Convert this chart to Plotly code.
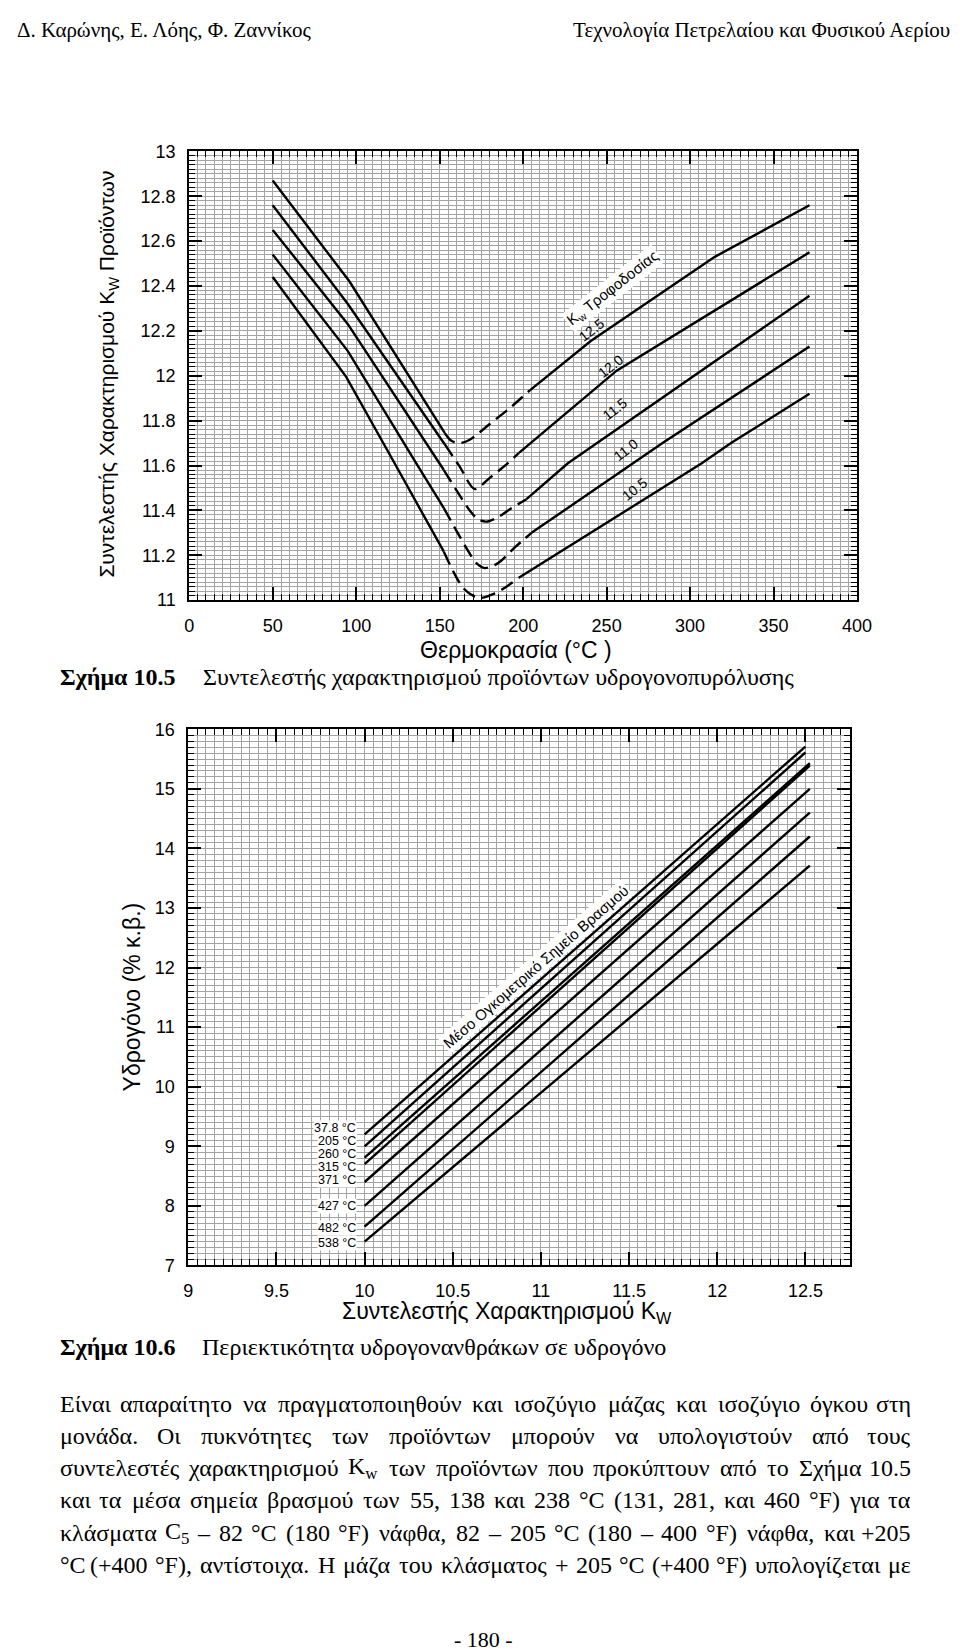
import re
import plotly.graph_objects as go

# ===================== DATA =====================
# Figure 10.5 : product Kw vs temperature, one curve per feed Kw
feed_kw = ["12.5", "12.0", "11.5", "11.0", "10.5"]

kw125_down_t = [50, 96, 153]
kw125_down_k = [12.87, 12.42, 11.745]
kw125_dash_t = [153, 157, 162, 168, 180, 192.6, 204]
kw125_dash_k = [11.745, 11.71, 11.70, 11.715, 11.785, 11.86, 11.935]
kw125_up_t = [204, 240.5, 314.8, 371.5]
kw125_up_k = [11.935, 12.155, 12.53, 12.76]

kw120_down_t = [50, 95, 153]
kw120_down_k = [12.76, 12.32, 11.695]
kw120_dash_t = [153, 162, 171, 180, 190, 197.5]
kw120_dash_k = [11.695, 11.595, 11.495, 11.545, 11.605, 11.656]
kw120_up_t = [197.5, 256, 371.5]
kw120_up_k = [11.656, 12.023, 12.55]

kw115_down_t = [50, 95, 152.5]
kw115_down_k = [12.65, 12.23, 11.58]
kw115_dash_t = [152.5, 160, 168, 173, 178, 185, 193, 202]
kw115_dash_k = [11.58, 11.49, 11.40, 11.36, 11.35, 11.37, 11.41, 11.45]
kw115_up_t = [202, 226.8, 244.3, 371.5]
kw115_up_k = [11.45, 11.61, 11.70, 12.357]

kw110_down_t = [50, 95, 136, 152.5]
kw110_down_k = [12.54, 12.11, 11.61, 11.41]
kw110_dash_t = [152.5, 160, 167, 172, 177, 185, 195, 205]
kw110_dash_k = [11.41, 11.31, 11.22, 11.165, 11.143, 11.165, 11.235, 11.30]
kw110_up_t = [205, 283.5, 371.5]
kw110_up_k = [11.30, 11.70, 12.13]

kw105_down_t = [50, 94, 123, 152.5]
kw105_down_k = [12.44, 11.995, 11.61, 11.216]
kw105_dash_t = [152.5, 158, 164, 170, 175, 183, 190, 197.4]
kw105_dash_k = [11.216, 11.13, 11.055, 11.02, 11.01, 11.03, 11.06, 11.10]
kw105_up_t = [197.4, 307, 324.5, 371.5]
kw105_up_k = [11.10, 11.61, 11.70, 11.92]

# Figure 10.6 : hydrogen content vs Kw, one line per mean boiling point
bp_labels = ["37.8 °C", "205 °C", "260 °C", "315 °C", "371 °C", "427 °C", "482 °C", "538 °C"]
kw_start = [10.0, 10.0, 10.0, 10.0, 10.0, 10.0, 10.0, 10.0]
h2_start = [9.20, 9.00, 8.81, 8.70, 8.40, 8.00, 7.65, 7.40]
kw_end = [12.50, 12.50, 12.525, 12.525, 12.525, 12.525, 12.525, 12.525]
h2_end = [15.71, 15.61, 15.43, 15.39, 15.00, 14.60, 14.20, 13.71]

# ===================== PAGE TEXT =====================
header_left = "Δ. Καρώνης, Ε. Λόης, Φ. Ζαννίκος"
header_right = "Τεχνολογία Πετρελαίου και Φυσικού Αερίου"
cap1_num = "Σχήμα 10.5"
cap1_txt = "Συντελεστής χαρακτηρισμού προϊόντων υδρογονοπυρόλυσης"
cap2_num = "Σχήμα 10.6"
cap2_txt = "Περιεκτικότητα υδρογονανθράκων σε υδρογόνο"
body_lines = [
    "Είναι απαραίτητο να πραγματοποιηθούν και ισοζύγιο μάζας και ισοζύγιο όγκου στη",
    "μονάδα. Οι πυκνότητες των προϊόντων μπορούν να υπολογιστούν από τους",
    "συντελεστές χαρακτηρισμού K<sub>w</sub> των προϊόντων που προκύπτουν από το Σχήμα 10.5",
    "και τα μέσα σημεία βρασμού των 55, 138 και 238 °C (131, 281, και 460 °F) για τα",
    "κλάσματα C<sub>5</sub> – 82 °C (180 °F) νάφθα, 82 – 205 °C (180 – 400 °F) νάφθα, και +205",
    "°C (+400 °F), αντίστοιχα. Η μάζα του κλάσματος + 205 °C (+400 °F) υπολογίζεται με",
]
page_number = "- 180 -"

# ===================== LAYOUT =====================
W, H = 960, 1652


def PX(x):
    return x / W


def PY(y):
    return 1 - y / H


SANS = "Liberation Sans, Arial, sans-serif"
SERIF = "Liberation Serif, Times New Roman, serif"
GRID = "#a4a4a4"
LW = 2.4

fig = go.Figure()

curves = [
    (kw125_down_t, kw125_down_k, kw125_dash_t, kw125_dash_k, kw125_up_t, kw125_up_k),
    (kw120_down_t, kw120_down_k, kw120_dash_t, kw120_dash_k, kw120_up_t, kw120_up_k),
    (kw115_down_t, kw115_down_k, kw115_dash_t, kw115_dash_k, kw115_up_t, kw115_up_k),
    (kw110_down_t, kw110_down_k, kw110_dash_t, kw110_dash_k, kw110_up_t, kw110_up_k),
    (kw105_down_t, kw105_down_k, kw105_dash_t, kw105_dash_k, kw105_up_t, kw105_up_k),
]
for dt, dk, st, sk, ut, uk in curves:
    fig.add_trace(go.Scatter(x=dt, y=dk, mode="lines", xaxis="x", yaxis="y",
                             line=dict(color="black", width=LW), hoverinfo="skip"))
    fig.add_trace(go.Scatter(x=st, y=sk, mode="lines", xaxis="x", yaxis="y",
                             line=dict(color="black", width=LW, dash="14px,7px",
                                       shape="spline", smoothing=0.8), hoverinfo="skip"))
    fig.add_trace(go.Scatter(x=ut, y=uk, mode="lines", xaxis="x", yaxis="y",
                             line=dict(color="black", width=LW), hoverinfo="skip"))

for i in range(len(bp_labels)):
    fig.add_trace(go.Scatter(x=[kw_start[i], kw_end[i]], y=[h2_start[i], h2_end[i]],
                             mode="lines", xaxis="x2", yaxis="y2",
                             line=dict(color="black", width=LW), hoverinfo="skip"))


def lin_axis(domain, rng, dtick, minor_dtick, anchor, tick0):
    return dict(domain=domain, range=rng, anchor=anchor, tickmode="linear", tick0=tick0,
                dtick=dtick, ticks="inside", ticklen=13, tickwidth=1.6, tickcolor="black",
                showline=True, linecolor="black", linewidth=2, mirror="ticks",
                showgrid=True, gridcolor=GRID, gridwidth=1, zeroline=False,
                tickfont=dict(family=SANS, size=18, color="black"), ticklabelstandoff=8,
                minor=dict(tick0=tick0, dtick=minor_dtick, ticks="inside", ticklen=6,
                           tickwidth=1.3, tickcolor="black", showgrid=True,
                           gridcolor=GRID, gridwidth=1),
                fixedrange=True)


annotations = []


def ann(text, x, y, size, family=SANS, xanchor="center", yanchor="middle", angle=0,
        xref="paper", yref="paper", bg=None, pad=1):
    d = dict(text=text, x=x, y=y, xref=xref, yref=yref, showarrow=False,
             xanchor=xanchor, yanchor=yanchor, textangle=angle,
             font=dict(family=family, size=size, color="black"))
    if bg:
        d["bgcolor"] = bg
        d["borderpad"] = pad
    annotations.append(d)


# axis titles
ann("Συντελεστής Χαρακτηρισμού K<sub>W</sub> Προϊόντων", PX(97), PY(360), 21, angle=-90)
ann("Θερμοκρασία (°C )", PX(514), PY(640), 23)
ann("Υδρογόνο (% κ.β.)", PX(122), PY(991), 23, angle=-90)
ann("Συντελεστής Χαρακτηρισμού K<sub>W</sub>", PX(504), PY(1310), 23)

# figure 10.5 curve labels
ann("K<sub>w</sub> Τροφοδοσίας", 253.5, 12.391, 15, angle=-38, xref="x", yref="y", bg="white")
label_pos_105 = [(240.9, 12.203), (252.6, 12.043), (255.1, 11.85), (261.4, 11.668), (266.9, 11.495)]
for lab, (lx, ly) in zip(feed_kw, label_pos_105):
    ann(lab, lx, ly, 14, angle=-38, xref="x", yref="y")

# figure 10.6 labels
label_y_106 = [9.31, 9.09, 8.87, 8.66, 8.43, 8.0, 7.63, 7.38]
for lab, ly in zip(bp_labels, label_y_106):
    ann(lab, 9.955, ly, 12.5, xanchor="right", xref="x2", yref="y2", bg="white", pad=0)
ann("Μέσο Ογκομετρικό Σημείο Βρασμού", 10.972, 12.02, 15, angle=-41,
    xref="x2", yref="y2", bg="white")

# header, captions, page number
ann(header_left, PX(2), PY(12), 21, family=SERIF, xanchor="left")
ann(header_right, PX(959), PY(12), 21, family=SERIF, xanchor="right")
ann("<b>" + cap1_num + "</b>", PX(46), PY(667), 24, family=SERIF, xanchor="left")
ann(cap1_txt, PX(192), PY(667), 24, family=SERIF, xanchor="left")
ann("<b>" + cap2_num + "</b>", PX(46), PY(1345), 24, family=SERIF, xanchor="left")
ann(cap2_txt, PX(191), PY(1345), 24, family=SERIF, xanchor="left")
ann(page_number, PX(480), PY(1641), 22, family=SERIF)

# justified body text (word by word)
CW = {' ': 0.25, '.': 0.25, ',': 0.25, '(': 0.333, ')': 0.333, '–': 0.5, '-': 0.333,
      '+': 0.564, '°': 0.4,
      'α': 0.55, 'ά': 0.55, 'β': 0.5, 'γ': 0.46, 'δ': 0.5, 'ε': 0.44, 'έ': 0.44,
      'ζ': 0.44, 'η': 0.5, 'ή': 0.5, 'θ': 0.5, 'ι': 0.28, 'ί': 0.28, 'ϊ': 0.28,
      'κ': 0.5, 'λ': 0.5, 'μ': 0.56, 'ν': 0.46, 'ξ': 0.45, 'ο': 0.5, 'ό': 0.5,
      'π': 0.53, 'ρ': 0.5, 'σ': 0.54, 'ς': 0.44, 'τ': 0.43, 'υ': 0.49, 'ύ': 0.49,
      'φ': 0.65, 'χ': 0.46, 'ψ': 0.68, 'ω': 0.7, 'ώ': 0.7,
      'Ε': 0.61, 'Η': 0.72, 'Ο': 0.72, 'Σ': 0.58, 'K': 0.72, 'C': 0.67, 'F': 0.56,
      'w': 0.72}


def est_width(word, size):
    total = 0.0
    for part in re.split(r"(<sub>.*?</sub>)", word):
        if part.startswith("<sub>"):
            total += 0.7 * sum(CW.get(c, 0.5) for c in part[5:-6])
        else:
            total += sum(CW.get(c, 0.5) for c in part)
    return total * size


BODY_SIZE = 24
BODY_L, BODY_R = 46, 919
body_y = [1402.6, 1435.3, 1468.0, 1500.6, 1533.3, 1566.0]
for line, yy in zip(body_lines, body_y):
    words = line.split(" ")
    widths = [est_width(w, BODY_SIZE) for w in words]
    gap = (BODY_R - BODY_L - sum(widths)) / (len(words) - 1)
    cur = BODY_L
    for k, (w, wd) in enumerate(zip(words, widths)):
        if k == 0:
            ann(w, PX(BODY_L), PY(yy), BODY_SIZE, family=SERIF, xanchor="left")
        elif k == len(words) - 1:
            ann(w, PX(BODY_R), PY(yy), BODY_SIZE, family=SERIF, xanchor="right")
        else:
            ann(w, PX(cur + wd / 2), PY(yy), BODY_SIZE, family=SERIF, xanchor="center")
        cur += wd + gap

fig.update_layout(
    width=W, height=H, margin=dict(l=0, r=0, t=0, b=0),
    paper_bgcolor="white", plot_bgcolor="white", showlegend=False,
    xaxis=lin_axis([180 / W, 862 / W], [0, 400], 50, 5, "y", 0),
    yaxis=lin_axis([1 - 589.3 / H, 1 - 135 / H], [11, 13], 0.2, 0.02, "x", 11),
    xaxis2=lin_axis([179 / W, 854.3 / W], [9, 12.75], 0.5, 0.05, "y2", 9),
    yaxis2=lin_axis([1 - 1262.7 / H, 1 - 720 / H], [7, 16], 1, 0.1, "x2", 7),
    annotations=annotations,
)

fig.write_html("out.html")
